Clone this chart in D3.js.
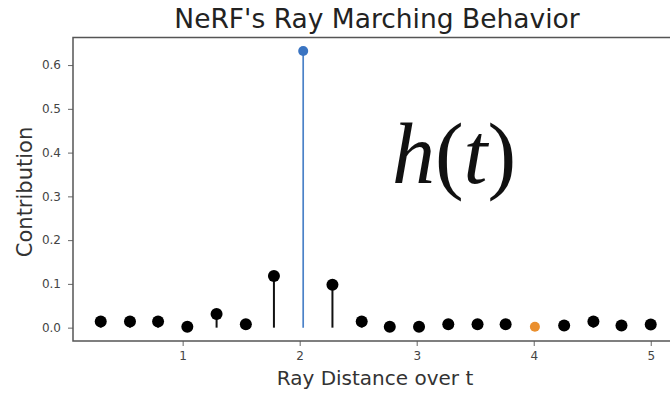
<!DOCTYPE html>
<html>
<head>
<meta charset="utf-8">
<script src="https://cdn.jsdelivr.net/npm/d3@7"></script>
<style>
  body { margin: 0; background: #fff; }
  svg { display: block; font-family: "DejaVu Sans", sans-serif; }
</style>
</head>
<body>
<svg id="svg" width="670" height="393"></svg>
<script>
// sample positions along the ray and their contributions
const tVals = [0.30, 0.55, 0.79, 1.04, 1.29, 1.54, 1.78, 2.03, 2.28, 2.53,
               2.77, 3.02, 3.27, 3.52, 3.76, 4.01, 4.26, 4.51, 4.75, 5.00];
const hVals = [0.014, 0.014, 0.014, 0.002, 0.031, 0.008, 0.118, 0.632, 0.098, 0.014,
               0.002, 0.002, 0.008, 0.008, 0.008, 0.002, 0.005, 0.014, 0.005, 0.007];
const peakIndex = 7;    // highlighted in blue
const sampleIndex = 15; // highlighted in orange
const xTicks = [1, 2, 3, 4, 5];
const yTicks = [0, 0.1, 0.2, 0.3, 0.4, 0.5, 0.6];

const svg = d3.select('#svg');
const pLeft = 73, pRight = 680, pTop = 37.5, pBottom = 341;

const x = d3.scaleLinear().domain([0.063, 5.25]).range([pLeft, pRight]);
const y = d3.scaleLinear().domain([-0.0305, 0.663]).range([pBottom, pTop]);

// axes
const xAxis = svg.append('g')
  .attr('transform', `translate(0,${pBottom})`)
  .call(d3.axisBottom(x).tickValues(xTicks).tickFormat(d3.format('d'))
    .tickSize(5).tickPadding(5).tickSizeOuter(0));
const yAxis = svg.append('g')
  .attr('transform', `translate(${pLeft},0)`)
  .call(d3.axisLeft(y).tickValues(yTicks).tickFormat(d3.format('.1f'))
    .tickSize(5).tickPadding(7).tickSizeOuter(0));
[xAxis, yAxis].forEach(g => {
  g.select('.domain').remove();
  g.selectAll('line').attr('stroke', '#666').attr('stroke-width', 1);
  g.selectAll('text').attr('fill', '#444').style('font-size', '12px')
    .style('font-family', '"DejaVu Sans", sans-serif');
});

// frame
svg.append('rect')
  .attr('x', pLeft).attr('y', pTop)
  .attr('width', pRight - pLeft).attr('height', pBottom - pTop)
  .attr('fill', 'none').attr('stroke', '#555').attr('stroke-width', 1.5);

const pts = tVals.map((t, i) => ({ t, h: hVals[i], i }));

// stems
svg.append('g').selectAll('line')
  .data(pts)
  .join('line')
  .attr('x1', d => x(d.t)).attr('x2', d => x(d.t))
  .attr('y1', y(0)).attr('y2', d => y(d.h))
  .attr('stroke', d => d.i === peakIndex ? '#4b82c8' : '#111')
  .attr('stroke-width', d => d.i === peakIndex ? 1.7 : 2);

// markers
svg.append('g').selectAll('circle')
  .data(pts)
  .join('circle')
  .attr('cx', d => x(d.t)).attr('cy', d => y(d.h))
  .attr('r', d => d.i === peakIndex || d.i === sampleIndex ? 5 : 6)
  .attr('fill', d => d.i === peakIndex ? '#3a74c2' : d.i === sampleIndex ? '#ea8f2e' : '#000');

// title and labels
svg.append('text')
  .attr('x', 377).attr('y', 28)
  .attr('text-anchor', 'middle')
  .style('font-size', '26.5px').attr('fill', '#222')
  .text("NeRF's Ray Marching Behavior");

svg.append('text')
  .attr('x', 375).attr('y', 385)
  .attr('text-anchor', 'middle')
  .style('font-size', '20px').attr('fill', '#333')
  .text('Ray Distance over t');

svg.append('text')
  .attr('transform', `translate(32,192) rotate(-90)`)
  .attr('text-anchor', 'middle')
  .style('font-size', '21px').attr('fill', '#333')
  .text('Contribution');

// math annotation
const eq = svg.append('text')
  .attr('x', 454).attr('y', 183)
  .attr('text-anchor', 'middle')
  .style('font-family', '"Liberation Serif", serif')
  .style('font-size', '86px').attr('fill', '#111');
eq.append('tspan').style('font-style', 'italic').text('h');
eq.append('tspan').text('(');
eq.append('tspan').style('font-style', 'italic').text('t');
eq.append('tspan').text(')');
</script>
</body>
</html>
